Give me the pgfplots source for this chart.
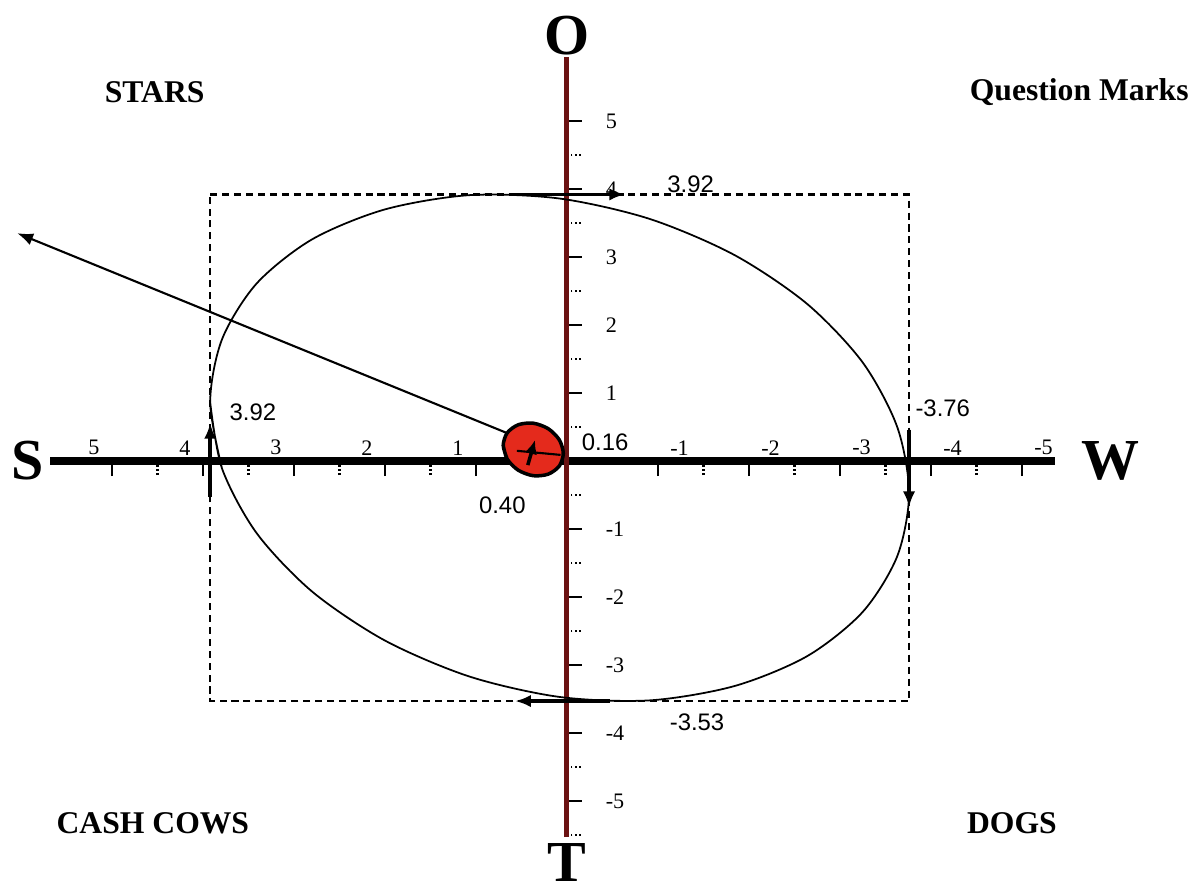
\documentclass[border=0pt]{standalone}
\usepackage{fontspec}
\setmainfont{Liberation Serif}
\newfontfamily\arial{Liberation Sans}
\usepackage{pgfplots}
\pgfplotsset{compat=1.18}
\usetikzlibrary{arrows.meta}
\definecolor{axisred}{HTML}{6B1212}
\definecolor{dotred}{HTML}{E42A1C}

\begin{document}
\begin{tikzpicture}
\begin{axis}[
  x=0.91cm, y=0.68cm,
  x dir=reverse,
  xmin=-5.36, xmax=5.68, ymin=-5.53, ymax=5.94,
  axis lines=center,
  axis line style={-},
  x axis line style={black, line width=2pt},
  y axis line style={axisred, line width=1.4pt},
  tick align=center,
  major tick length=0.15cm, minor tick length=0.13cm,
  xtick={1,2,3,4,5}, xticklabels={1,2,3,4,5},
  extra x ticks={-1,-2,-3,-4,-5}, extra x tick labels={-1,-2,-3,-4,-5},
  extra x tick style={xticklabel style={anchor=south west}},
  minor xtick={-4.5,-3.5,-2.5,-1.5,1.5,2.5,3.5,4.5},
  ytick={-5,-4,-3,-2,-1,1,2,3,4,5}, yticklabels={-5,-4,-3,-2,-1,1,2,3,4,5},
  minor ytick={-5.5,-4.5,-3.5,-2.5,-1.5,-0.5,0.5,1.5,2.5,3.5,4.5},
  major x tick style={black, line width=0.8pt, yshift=-0.075cm},
  minor x tick style={black, line width=0.7pt, dash pattern=on 0.45pt off 0.75pt, yshift=-0.075cm},
  major y tick style={black, line width=0.8pt, xshift=0.075cm},
  minor y tick style={black, line width=0.7pt, dash pattern=on 0.45pt off 0.75pt, xshift=0.075cm},
  xticklabel style={font=\fontsize{6.3}{7}\selectfont, anchor=south east, yshift=0.01cm},
  yticklabel style={font=\fontsize{6.3}{7}\selectfont, anchor=west, xshift=0.34cm},
  clip=false,
]
% picture frame
\path (axis cs:6.23,6.78) rectangle (axis cs:-6.99,-6.32);

% dashed box of the totals
\addplot[black, line width=0.7pt, dash pattern=on 2pt off 1.4pt] coordinates {
  (3.92,3.92) (-3.76,3.92) (-3.76,-3.53) (3.92,-3.53) (3.92,3.92)};

% ellipse
\addplot[black, line width=0.5pt, smooth] coordinates {
  (3.79,-0.11) (3.92,0.865) (3.79,1.79) (3.41,2.61) (2.80,3.26) (2.00,3.70)
  (1.07,3.91) (0.08,3.86) (-0.91,3.56) (-1.84,3.03) (-2.64,2.31) (-3.25,1.45)
  (-3.63,0.50) (-3.76,-0.475) (-3.63,-1.40) (-3.25,-2.22) (-2.64,-2.87)
  (-1.84,-3.31) (-0.91,-3.52) (0.08,-3.47) (1.07,-3.17) (2.00,-2.64)
  (2.80,-1.92) (3.41,-1.06) (3.79,-0.11) (3.92,0.865)};

% resultant arrow
\addplot[black, line width=0.6pt, -{Latex[length=4.5pt,width=3.5pt]}] coordinates {(0.07,0.09) (6.04,3.35)};

% red point
\addplot[draw=black, line width=1pt, fill=dotred, smooth] coordinates {
  (0.656,0.028) (0.70,0.229) (0.656,0.414) (0.535,0.533) (0.37,0.556)
  (0.205,0.475) (0.084,0.312) (0.04,0.112) (0.084,-0.074) (0.205,-0.193)
  (0.37,-0.216) (0.535,-0.135) (0.656,0.028) (0.70,0.229)};
\addplot[black, line width=0.6pt] coordinates {(0.55,0.15) (0.07,0.09)};
\addplot[black, line width=1pt, -{Latex[length=4pt,width=3.5pt]}] coordinates {(0.43,-0.06) (0.35,0.31)};

% side arrows
\addplot[black, line width=1pt, -{Latex[length=4.5pt,width=3.5pt]}] coordinates {(0.57,3.92) (-0.64,3.92)};
\addplot[black, line width=1pt, -{Latex[length=4.5pt,width=3.5pt]}] coordinates {(-0.47,-3.53) (0.57,-3.53)};
\addplot[black, line width=1pt, -{Latex[length=4.5pt,width=3.5pt]}] coordinates {(3.92,-0.53) (3.92,0.56)};
\addplot[black, line width=1pt, -{Latex[length=4.5pt,width=3.5pt]}] coordinates {(-3.76,0.46) (-3.76,-0.68)};

% values
\begin{scope}[every node/.style={font=\arial\fontsize{6.8}{8}\selectfont}]
\node at (axis cs:-1.36,4.07) {3.92};
\node at (axis cs:-1.43,-3.84) {-3.53};
\node at (axis cs:3.45,0.72) {3.92};
\node at (axis cs:-4.13,0.78) {-3.76};
\node at (axis cs:-0.42,0.28) {0.16};
\node at (axis cs:0.71,-0.65) {0.40};
\end{scope}

% axis ends
\begin{scope}[every node/.style={font=\bfseries\fontsize{16.5}{18}\selectfont, inner sep=0pt}]
\node at (axis cs:5.93,0) {S};
\node at (axis cs:-5.97,0) {W};
\node at (axis cs:0,6.26) {O};
\node at (axis cs:0,-5.9) {T};
\end{scope}

% quadrants
\begin{scope}[every node/.style={font=\bfseries\fontsize{9}{10}\selectfont}]
\node at (axis cs:4.53,5.43) {STARS};
\node at (axis cs:-5.63,5.43) {Question Marks};
\node at (axis cs:4.55,-5.32) {CASH COWS};
\node at (axis cs:-4.89,-5.32) {DOGS};
\end{scope}
\end{axis}
\end{tikzpicture}
\end{document}
